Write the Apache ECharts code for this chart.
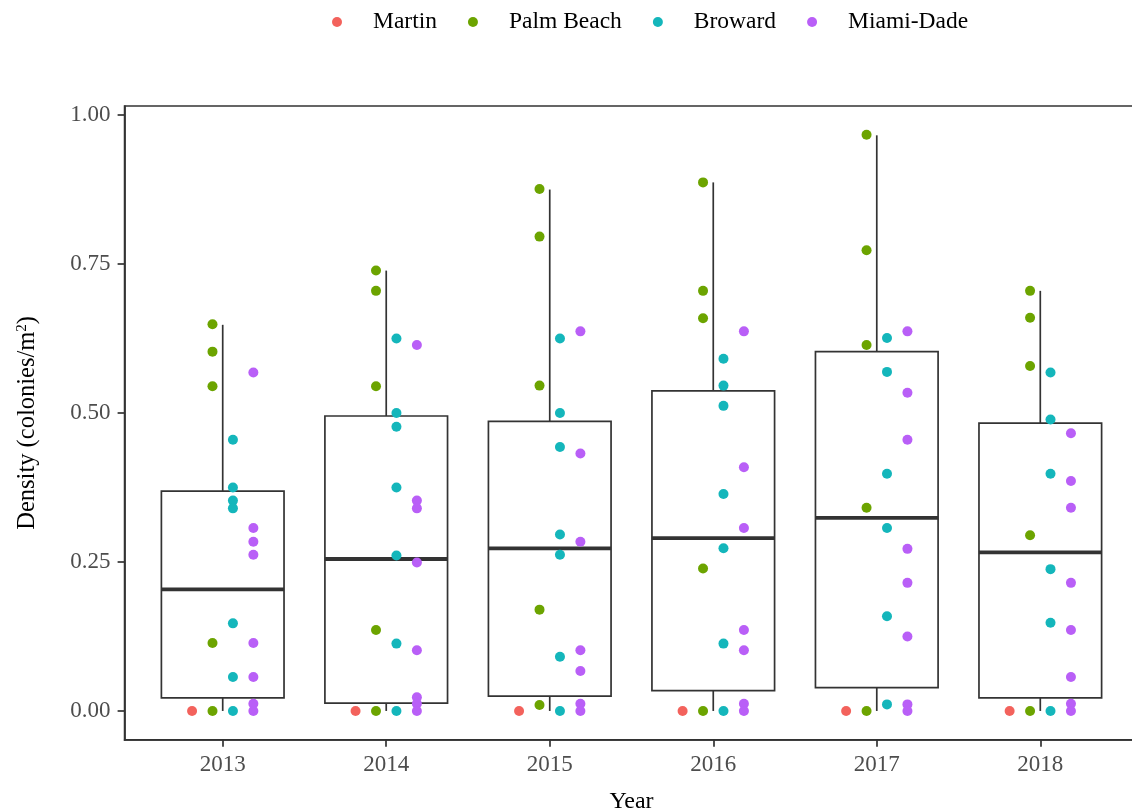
<!DOCTYPE html>
<html>
<head>
<meta charset="utf-8">
<script src="https://cdn.jsdelivr.net/npm/echarts@6/dist/echarts.min.js"></script>
<style>
  html, body { margin: 0; padding: 0; background: #fff; }
  #chart { width: 1132px; height: 812px; }
</style>
</head>
<body>
<div id="chart"></div>
<script>
// Years on the x axis
const years = ['2013', '2014', '2015', '2016', '2017', '2018'];

// Site densities (colonies/m²) by county, one list per year
const martin = [[0], [0], [0], [0], [0], [0]];
const palmBeach = [
  [0.649, 0.603, 0.545, 0.114, 0],
  [0.739, 0.705, 0.545, 0.136, 0],
  [0.876, 0.796, 0.546, 0.170, 0.010],
  [0.887, 0.705, 0.659, 0.239, 0],
  [0.967, 0.773, 0.614, 0.341, 0],
  [0.705, 0.660, 0.579, 0.295, 0]
];
const broward = [
  [0.455, 0.375, 0.353, 0.340, 0.147, 0.057, 0],
  [0.625, 0.500, 0.477, 0.375, 0.261, 0.113, 0],
  [0.625, 0.500, 0.443, 0.296, 0.262, 0.091, 0],
  [0.591, 0.546, 0.512, 0.364, 0.273, 0.113, 0],
  [0.626, 0.569, 0.398, 0.307, 0.159, 0.011],
  [0.568, 0.489, 0.398, 0.238, 0.148, 0]
];
const miamiDade = [
  [0.568, 0.307, 0.284, 0.262, 0.114, 0.057, 0.012, 0],
  [0.614, 0.353, 0.340, 0.249, 0.102, 0.023, 0.012, 0],
  [0.637, 0.432, 0.284, 0.102, 0.067, 0.012, 0],
  [0.637, 0.409, 0.307, 0.136, 0.102, 0.012, 0],
  [0.637, 0.534, 0.455, 0.272, 0.215, 0.125, 0.011, 0],
  [0.466, 0.386, 0.341, 0.215, 0.136, 0.057, 0.012, 0]
];

// Box-and-whisker statistics per year
const boxMin = [0, 0, 0, 0, 0, 0];
const boxQ1 = [0.022, 0.013, 0.025, 0.034, 0.039, 0.022];
const boxMedian = [0.204, 0.255, 0.273, 0.290, 0.324, 0.266];
const boxQ3 = [0.369, 0.495, 0.486, 0.537, 0.603, 0.483];
const boxMax = [0.648, 0.739, 0.875, 0.887, 0.966, 0.705];

const yTicks = [0, 0.25, 0.5, 0.75, 1];

const counties = [
  { name: 'Martin', values: martin, color: '#F3625C' },
  { name: 'Palm Beach', values: palmBeach, color: '#6CA400' },
  { name: 'Broward', values: broward, color: '#14B6BB' },
  { name: 'Miami-Dade', values: miamiDade, color: '#B95FF7' }
];

const FONT = 'Liberation Serif';
const dodgeWidth = 0.5;
const boxWidth = 0.75;

const boxData = years.map((y, i) => [i, boxMin[i], boxQ1[i], boxMedian[i], boxQ3[i], boxMax[i]]);

// Box, median bar and whiskers (no end caps) for one year
function renderBox(params, api) {
  const i = api.value(0);
  const pMin = api.coord([i, api.value(1)]);
  const pQ1 = api.coord([i, api.value(2)]);
  const pMed = api.coord([i, api.value(3)]);
  const pQ3 = api.coord([i, api.value(4)]);
  const pMax = api.coord([i, api.value(5)]);
  const w = api.size([boxWidth, 0])[0];
  const x = pMed[0];
  const stroke = '#333333';
  return {
    type: 'group',
    children: [
      { type: 'line', shape: { x1: x, y1: pQ3[1], x2: x, y2: pMax[1] },
        style: { stroke: stroke, lineWidth: 1.7 } },
      { type: 'line', shape: { x1: x, y1: pQ1[1], x2: x, y2: pMin[1] },
        style: { stroke: stroke, lineWidth: 1.7 } },
      { type: 'rect', shape: { x: x - w / 2, y: pQ3[1], width: w, height: pQ1[1] - pQ3[1] },
        style: { fill: '#ffffff', stroke: stroke, lineWidth: 1.7 } },
      { type: 'line', shape: { x1: x - w / 2, y1: pMed[1], x2: x + w / 2, y2: pMed[1] },
        style: { stroke: stroke, lineWidth: 3.8 } }
    ]
  };
}

// One scatter series per county, dodged side by side within each year
const scatterSeries = counties.map((c, k) => {
  const offset = (k - (counties.length - 1) / 2) * dodgeWidth / counties.length;
  const data = [];
  c.values.forEach((list, i) => list.forEach(v => data.push([i + offset, v])));
  return {
    name: c.name,
    type: 'scatter',
    data: data,
    symbol: 'circle',
    symbolSize: 10,
    itemStyle: { color: c.color, opacity: 1 },
    z: 5
  };
});

const chart = echarts.init(document.getElementById('chart'), null, { renderer: 'canvas' });
chart.setOption({
  animation: false,
  backgroundColor: '#ffffff',
  textStyle: { fontFamily: FONT },
  legend: {
    data: counties.map(c => c.name),
    left: 327,
    top: 5,
    itemWidth: 10,
    itemHeight: 10,
    itemGap: 31,
    icon: 'circle',
    textStyle: { fontFamily: FONT, fontSize: 23.5, color: '#000', padding: [0, 0, 0, 26] }
  },
  grid: {
    left: 124.6, right: -6.4, top: 106, bottom: 72.2,
    outerBoundsMode: 'none',
    containLabel: false,
    show: true, borderColor: '#333333', borderWidth: 1.7, backgroundColor: 'transparent'
  },
  xAxis: {
    type: 'value',
    min: -0.6,
    max: 5.6,
    name: 'Year',
    nameLocation: 'middle',
    nameGap: 50,
    nameTextStyle: { fontFamily: FONT, fontSize: 24, color: '#000' },
    axisLine: { show: true, onZero: false, lineStyle: { color: '#333333', width: 1.7 } },
    axisTick: { show: true, length: 7, customValues: [0, 1, 2, 3, 4, 5],
      lineStyle: { color: '#333333', width: 1.7 } },
    axisLabel: { customValues: [0, 1, 2, 3, 4, 5], formatter: v => years[Math.round(v)],
      fontFamily: FONT, fontSize: 23, color: '#4D4D4D', margin: 14 },
    splitLine: { show: false }
  },
  yAxis: {
    type: 'value',
    min: -0.0484,
    max: 1.0152,
    name: 'Density (colonies/m{sup|2})',
    nameLocation: 'middle',
    nameRotate: 90,
    nameGap: 85,
    nameTextStyle: {
      fontFamily: FONT, fontSize: 24.5, color: '#000',
      rich: { sup: { fontFamily: FONT, fontSize: 15, verticalAlign: 'top', padding: [0, 0, 10, 0] } }
    },
    axisLine: { show: true, onZero: false, lineStyle: { color: '#333333', width: 1.7 } },
    axisTick: { show: true, length: 7, customValues: yTicks,
      lineStyle: { color: '#333333', width: 1.7 } },
    axisLabel: { customValues: yTicks, formatter: v => v.toFixed(2),
      fontFamily: FONT, fontSize: 23, color: '#4D4D4D', margin: 14 },
    splitLine: { show: false }
  },
  series: [
    {
      type: 'custom',
      renderItem: renderBox,
      data: boxData,
      encode: { x: 0, y: [1, 2, 3, 4, 5] },
      z: 2,
      silent: true
    }
  ].concat(scatterSeries)
});
</script>
</body>
</html>
